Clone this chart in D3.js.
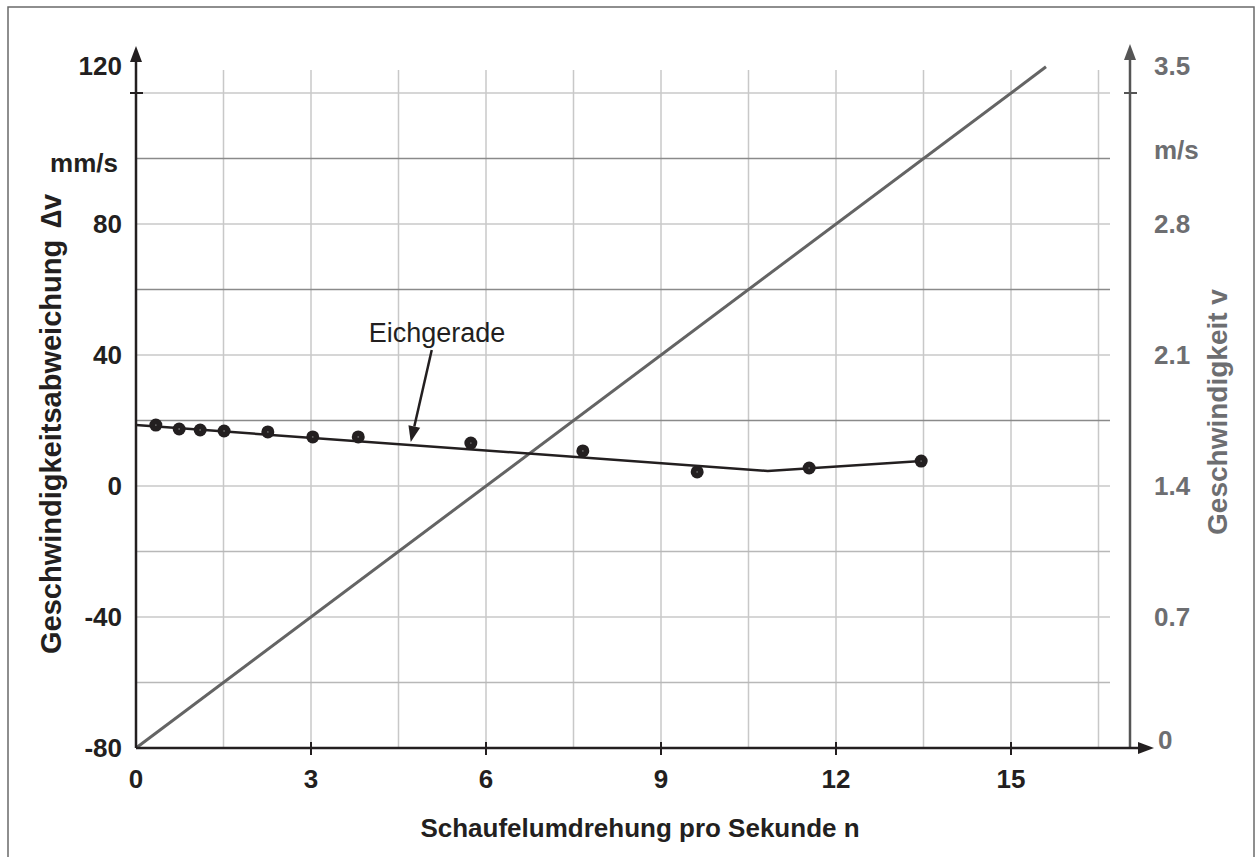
<!DOCTYPE html>
<html><head><meta charset="utf-8">
<script src="https://cdn.jsdelivr.net/npm/d3@7"></script>
<style>
html,body{margin:0;padding:0;background:#fff;}
svg{display:block;font-family:"Liberation Sans",Arial,sans-serif;}
</style></head>
<body>
<svg id="chart" width="1257" height="857"></svg>
<script>
// ---- data ----
const xTicks = [0, 3, 6, 9, 12, 15];
const leftTicks = [-80, -40, 0, 40, 80, 120];
const rightTicks = [0, 0.7, 1.4, 2.1, 2.8, 3.5];
const rightTickLabels = ["0", "0.7", "1.4", "2.1", "2.8", "3.5"];
const gridX = [1.5, 3, 4.5, 6, 7.5, 9, 10.5, 12, 13.5, 15, 16.5];
const gridY = [-60, -40, -20, 0, 20, 40, 60, 80, 100, 120];
const gridYDark = [100, 60, 20];
const gridYMid = [-20, -60];
// measured deviation points (n, Δv in mm/s)
const pointN  = [0.34, 0.74, 1.10, 1.51, 2.26, 3.03, 3.81, 5.74, 7.66, 9.62, 11.54, 13.46];
const pointDv = [18.6, 17.4, 17.1, 16.8, 16.5, 15.0, 15.0, 13.1, 10.7, 4.3, 5.5, 7.6];
// Eichgerade (calibration line)
const calN  = [0, 10.83, 13.47];
const calDv = [18.6, 4.6, 7.6];
// speed line v (m/s) against n
const speedN = [0, 15.6];
const speedV = [0, 3.64];
// annotation
const annoText = "Eichgerade";
const annoTextPos = [5.16, 47.0];
const annoFrom = [5.07, 41.5];
const annoTo = [4.71, 13.4];

const svg = d3.select("#chart");
const dark = "#231f20", gray = "#6d6e71";

const x = d3.scaleLinear().domain([0, 15]).range([136, 1011]);
const yL = d3.scaleLinear().domain([-80, 120]).range([748, 93]);
const yR = d3.scaleLinear().domain([0, 3.5]).range([748, 93]);

// frame
svg.append("rect").attr("x", 8).attr("y", 7).attr("width", 1246).attr("height", 880)
  .attr("fill", "none").attr("stroke", "#6a6a6a").attr("stroke-width", 1.5);

// grid vertical
svg.append("g").selectAll("line").data(gridX).join("line")
  .attr("x1", d => x(d)).attr("x2", d => x(d))
  .attr("y1", 70).attr("y2", yL(-80))
  .attr("stroke", "#c8c8c8").attr("stroke-width", 1.5);
// grid horizontal
svg.append("g").selectAll("line").data(gridY).join("line")
  .attr("x1", x(0)).attr("x2", 1110)
  .attr("y1", d => yL(d)).attr("y2", d => yL(d))
  .attr("stroke", d => gridYDark.includes(d) ? "#8a8a8a" : (gridYMid.includes(d) ? "#b8b8b8" : "#c8c8c8"))
  .attr("stroke-width", 1.5);

// speed line (right axis)
const speedData = speedN.map((n, i) => [n, speedV[i]]);
svg.append("path").datum(speedData)
  .attr("d", d3.line().x(d => x(d[0])).y(d => yR(d[1])))
  .attr("fill", "none").attr("stroke", "#646464").attr("stroke-width", 3);

// calibration line
const calData = calN.map((n, i) => [n, calDv[i]]);
svg.append("path").datum(calData)
  .attr("d", d3.line().x(d => x(d[0])).y(d => yL(d[1])))
  .attr("fill", "none").attr("stroke", dark).attr("stroke-width", 2.5);

// points
const pts = pointN.map((n, i) => [n, pointDv[i]]);
svg.append("g").selectAll("circle").data(pts).join("circle")
  .attr("cx", d => x(d[0])).attr("cy", d => yL(d[1])).attr("r", 6.5).attr("fill", dark);
svg.append("g").selectAll("circle").data(pts).join("circle")
  .attr("cx", d => x(d[0])).attr("cy", d => yL(d[1])).attr("r", 0.9).attr("fill", "#666");

// axes
const x0 = x(0), yb = yL(-80), xr = 1130;
// left axis
svg.append("line").attr("x1", x0).attr("x2", x0).attr("y1", yb).attr("y2", 58)
  .attr("stroke", dark).attr("stroke-width", 2.5);
svg.append("path").attr("d", `M${x0},46 L${x0-6},62 L${x0+6},62 Z`).attr("fill", dark);
svg.append("line").attr("x1", x0-6).attr("x2", x0+7).attr("y1", yL(120)).attr("y2", yL(120))
  .attr("stroke", dark).attr("stroke-width", 2);
// right axis
svg.append("line").attr("x1", xr).attr("x2", xr).attr("y1", yb).attr("y2", 56)
  .attr("stroke", "#555").attr("stroke-width", 2.5);
svg.append("path").attr("d", `M${xr},44 L${xr-6},60 L${xr+6},60 Z`).attr("fill", "#555");
svg.append("line").attr("x1", xr-6).attr("x2", xr+7).attr("y1", yR(3.5)).attr("y2", yR(3.5))
  .attr("stroke", "#555").attr("stroke-width", 2);
// x axis
svg.append("line").attr("x1", x0).attr("x2", 1142).attr("y1", yb).attr("y2", yb)
  .attr("stroke", dark).attr("stroke-width", 2.5);
svg.append("path").attr("d", `M1154,${yb} L1138,${yb-6} L1138,${yb+6} Z`).attr("fill", dark);
svg.append("g").selectAll("line").data(xTicks.filter(d => d > 0)).join("line")
  .attr("x1", d => x(d)).attr("x2", d => x(d)).attr("y1", yb-6).attr("y2", yb+7)
  .attr("stroke", dark).attr("stroke-width", 2);

// x tick labels
svg.append("g").selectAll("text").data(xTicks).join("text")
  .attr("x", d => x(d)).attr("y", 788).attr("text-anchor", "middle")
  .attr("font-size", 26).attr("font-weight", "bold").attr("fill", dark).text(d => d);

// left tick labels
svg.append("g").selectAll("text").data(leftTicks).join("text")
  .attr("x", 122).attr("y", d => d === 120 ? 75 : yL(d) + 9).attr("text-anchor", "end")
  .attr("font-size", 26).attr("font-weight", "bold").attr("fill", dark).text(d => d);
svg.append("text").attr("x", 118).attr("y", 172).attr("text-anchor", "end")
  .attr("font-size", 26).attr("font-weight", "bold").attr("fill", dark).text("mm/s");

// right tick labels
svg.append("g").selectAll("text").data(rightTicks).join("text")
  .attr("x", (d, i) => i === 0 ? 1158 : 1154)
  .attr("y", d => d === 3.5 ? 75 : (d === 0 ? yR(d) + 1 : yR(d) + 9))
  .attr("text-anchor", "start")
  .attr("font-size", 26).attr("font-weight", "bold").attr("fill", gray)
  .text((d, i) => rightTickLabels[i]);
svg.append("text").attr("x", 1154).attr("y", 159).attr("text-anchor", "start")
  .attr("font-size", 26).attr("font-weight", "bold").attr("fill", gray).text("m/s");

// axis titles
svg.append("text").attr("x", 640).attr("y", 837).attr("text-anchor", "middle")
  .attr("font-size", 26).attr("font-weight", "bold").attr("fill", dark)
  .text("Schaufelumdrehung pro Sekunde n");
const lt = svg.append("text").attr("transform", "translate(61,424) rotate(-90)").attr("text-anchor", "middle")
  .attr("font-size", 29).attr("font-weight", "bold").attr("fill", dark);
lt.append("tspan").text("Geschwindigkeitsabweichung");
lt.append("tspan").attr("dx", 12).text("\u2206v");
svg.append("text").attr("transform", "translate(1227,412) rotate(-90)").attr("text-anchor", "middle")
  .attr("font-size", 28).attr("font-weight", "bold").attr("fill", gray)
  .text("Geschwindigkeit v");

// annotation
svg.append("text").attr("x", x(annoTextPos[0])).attr("y", yL(annoTextPos[1]) + 10)
  .attr("text-anchor", "middle").attr("font-size", 27).attr("fill", dark).text(annoText);
const ax1 = x(annoFrom[0]), ay1 = yL(annoFrom[1]), ax2 = x(annoTo[0]), ay2 = yL(annoTo[1]);
const ang = Math.atan2(ay2 - ay1, ax2 - ax1);
const hl = 16, hw = 6;
const bx = ax2 - hl * Math.cos(ang), by = ay2 - hl * Math.sin(ang);
svg.append("line").attr("x1", ax1).attr("y1", ay1).attr("x2", bx).attr("y2", by)
  .attr("stroke", dark).attr("stroke-width", 2.5);
svg.append("path").attr("d",
  `M${ax2},${ay2} L${bx + hw*Math.sin(ang)},${by - hw*Math.cos(ang)} L${bx - hw*Math.sin(ang)},${by + hw*Math.cos(ang)} Z`)
  .attr("fill", dark);
</script>
</body></html>
